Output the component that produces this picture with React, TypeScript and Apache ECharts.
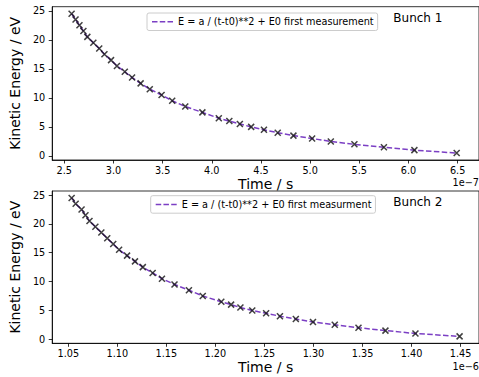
import React, { useEffect, useRef } from "react";
import * as echarts from "echarts";

// Bunch 1: time in units of 1e-7 s
const time1 = [
  2.574, 2.614, 2.654, 2.694, 2.734, 2.795, 2.855, 2.908, 2.975, 3.035, 3.115,
  3.189, 3.276, 3.369, 3.489, 3.597, 3.73, 3.904, 4.071, 4.178, 4.285, 4.4,
  4.53, 4.67, 4.83, 5.02, 5.21, 5.45, 5.75, 6.06, 6.49,
];
// Bunch 2: time in units of 1e-6 s
const time2 = [
  1.0534, 1.0575, 1.0635, 1.0675, 1.0716, 1.0776, 1.0837, 1.0897, 1.0958,
  1.1018, 1.1099, 1.118, 1.126, 1.136, 1.1455, 1.1583, 1.173, 1.1871, 1.206,
  1.216, 1.2255, 1.2376, 1.2517, 1.2658, 1.282, 1.2995, 1.3217, 1.3459,
  1.3734, 1.404, 1.449,
];
// Kinetic energy in eV
const energy1 = [
  24.5, 23.5, 22.5, 21.5, 20.5, 19.5, 18.5, 17.5, 16.5, 15.5, 14.5, 13.5, 12.5,
  11.5, 10.5, 9.5, 8.5, 7.5, 6.5, 6.0, 5.5, 5.0, 4.5, 4.0, 3.5, 3.0, 2.5, 2.0,
  1.5, 1.0, 0.5,
];
const energy2 = [
  24.5, 23.5, 22.5, 21.5, 20.5, 19.5, 18.5, 17.5, 16.5, 15.5, 14.5, 13.5, 12.5,
  11.5, 10.5, 9.5, 8.5, 7.5, 6.5, 6.0, 5.5, 5.0, 4.5, 4.0, 3.5, 3.0, 2.5, 2.0,
  1.5, 1.0, 0.5,
];

const xTicks1 = [2.5, 3.0, 3.5, 4.0, 4.5, 5.0, 5.5, 6.0, 6.5];
const xTicks2 = [1.05, 1.1, 1.15, 1.2, 1.25, 1.3, 1.35, 1.4, 1.45];
const yTicks = [0, 5, 10, 15, 20, 25];

const legend1 = "E = a / (t-t0)**2 + E0 first measurement";
const legend2 = "E = a / (t-t0)**2 + E0 first measurment";
const bunchLabels = ["Bunch 1", "Bunch 2"];
const offsetLabels = ["1e\u22127", "1e\u22126"];

const FONT = "DejaVu Sans";
const LINE_COLOR = "#7b3fc4";
const MARK_COLOR = "#111111";
const DASH_ICON = "path://M0,0h5.5v1.5h-5.5z M7.75,0h5.5v1.5h-5.5z M15.5,0h5.5v1.5h-5.5z";

export default function App() {
  const ref = useRef<HTMLDivElement>(null);

  useEffect(() => {
    if (!ref.current) return;
    const chart = echarts.init(ref.current, null, { renderer: "svg" });

    const pts1 = time1.map((t, i) => [t, energy1[i]]);
    const pts2 = time2.map((t, i) => [t, energy2[i]]);

    const xAxisCommon = (ticks: number[], digits: number, min: number, max: number, gridIndex: number) => ({
      type: "value",
      gridIndex,
      min,
      max,
      name: "Time / s",
      nameLocation: "middle",
      nameGap: 16.5,
      nameTextStyle: { fontFamily: FONT, fontSize: 14, color: "#000" },
      axisLine: { show: true, onZero: false, lineStyle: { color: "#000", width: 0.8 } },
      axisTick: { show: true, inside: false, length: 3.5, customValues: ticks, lineStyle: { color: "#000", width: 0.8 } },
      axisLabel: {
        show: true,
        customValues: ticks,
        margin: 5,
        fontFamily: FONT,
        fontSize: 9.7,
        color: "#000",
        formatter: (v: number) => v.toFixed(digits),
      },
      splitLine: { show: false },
    });

    const yAxisCommon = (gridIndex: number) => ({
      type: "value",
      gridIndex,
      min: -0.7,
      max: 25.7,
      name: "Kinetic Energy / eV",
      nameLocation: "middle",
      nameGap: 20.5,
      nameTextStyle: { fontFamily: FONT, fontSize: 14, color: "#000" },
      axisLine: { show: true, onZero: false, lineStyle: { color: "#000", width: 0.8 } },
      axisTick: { show: true, inside: false, length: 3.5, customValues: yTicks, lineStyle: { color: "#000", width: 0.8 } },
      axisLabel: {
        show: true,
        customValues: yTicks,
        margin: 7,
        fontFamily: FONT,
        fontSize: 9.7,
        color: "#000",
        formatter: (v: number) => String(v),
      },
      splitLine: { show: false },
    });

    const legendCommon = (name: string, left: number, top: number) => ({
      data: [{ name, icon: DASH_ICON }],
      left,
      top,
      orient: "horizontal",
      itemWidth: 21,
      itemHeight: 1.5,
      itemGap: 5,
      padding: [3, 4, 3, 5],
      backgroundColor: "rgba(255,255,255,0.8)",
      borderColor: "#cccccc",
      borderWidth: 1,
      borderRadius: 2,
      symbolKeepAspect: false,
      itemStyle: { color: LINE_COLOR, borderWidth: 0 },
      lineStyle: { width: 0 },
      textStyle: { fontFamily: FONT, fontSize: 9.7, color: "#000", lineHeight: 11.5 },
      selectedMode: false,
    });

    const scatterSeries = (data: number[][], idx: number) => ({
      type: "scatter",
      name: "data" + idx,
      xAxisIndex: idx,
      yAxisIndex: idx,
      data,
      symbol: "path://M0,0L10,10M0,10L10,0",
      symbolSize: 6,
      itemStyle: { color: "transparent", borderColor: MARK_COLOR, borderWidth: 1.5 },
      z: 4,
    });

    const lineSeries = (data: number[][], idx: number, name: string) => ({
      type: "line",
      name,
      xAxisIndex: idx,
      yAxisIndex: idx,
      data,
      symbol: "none",
      showSymbol: false,
      lineStyle: { color: LINE_COLOR, width: 1.5, type: [5.5, 2.4] },
      itemStyle: { color: LINE_COLOR },
      z: 3,
    });

    chart.setOption({
      animation: false,
      backgroundColor: "#ffffff",
      textStyle: { fontFamily: FONT },
      grid: [
        { left: 47, top: 6.7, width: 432.5, height: 153.3, show: true, borderColor: "#000", borderWidth: 0.8, backgroundColor: "transparent" },
        { left: 47, top: 191, width: 432.5, height: 152.3, show: true, borderColor: "#000", borderWidth: 0.8, backgroundColor: "transparent" },
      ],
      xAxis: [
        xAxisCommon(xTicks1, 1, 2.377, 6.717, 0),
        xAxisCommon(xTicks2, 2, 1.0336, 1.4688, 1),
      ],
      yAxis: [yAxisCommon(0), yAxisCommon(1)],
      legend: [legendCommon(legend1, 147, 13), legendCommon(legend2, 150.7, 195.7)],
      series: [
        lineSeries(pts1, 0, legend1),
        scatterSeries(pts1, 0),
        lineSeries(pts2, 1, legend2),
        scatterSeries(pts2, 1),
      ],
      graphic: [
        { type: "text", x: 393.3, y: 18.3, style: { text: bunchLabels[0], fontFamily: FONT, fontSize: 12, fill: "#000", align: "left", verticalAlign: "middle" } },
        { type: "text", x: 393.3, y: 201.7, style: { text: bunchLabels[1], fontFamily: FONT, fontSize: 12, fill: "#000", align: "left", verticalAlign: "middle" } },
        { type: "text", x: 479, y: 182.7, style: { text: offsetLabels[0], fontFamily: FONT, fontSize: 9.7, fill: "#000", align: "right", verticalAlign: "middle" } },
        { type: "text", x: 479, y: 366.7, style: { text: offsetLabels[1], fontFamily: FONT, fontSize: 9.7, fill: "#000", align: "right", verticalAlign: "middle" } },
      ],
    });

    return () => {
      chart.dispose();
    };
  }, []);

  return (
    <div
      ref={ref}
      style={{ position: "absolute", left: 0, top: 0, width: 479, height: 377 }}
    />
  );
}
